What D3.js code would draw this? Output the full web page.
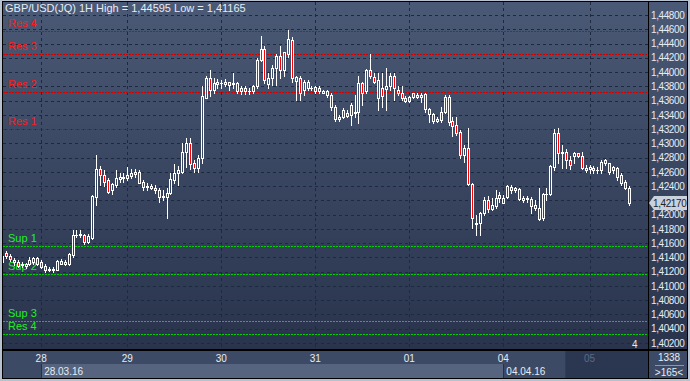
<!DOCTYPE html>
<html>
<head>
<meta charset="utf-8">
<script src="https://cdn.jsdelivr.net/npm/d3@7"></script>
<style>
  body { margin: 0; background: #b7c1d0; }
  svg { display: block; font-family: "Liberation Sans", Arial, sans-serif; }
</style>
</head>
<body>
<div id="app"></div>
<script>
// GBP/USD hourly candles (one value per hour)
const opens = [1.4134,1.4146,1.4142,1.4137,1.4133,1.4129,1.4128,1.4131,1.4133,1.4139,1.4133,1.4128,1.4123,1.4123,1.4123,1.4135,1.4131,1.4131,1.4143,1.4171,
  1.4172,1.4171,1.4162,1.4167,1.4225,1.4264,1.4256,1.4248,1.4234,1.4242,1.4250,1.4252,1.4252,1.4254,1.4257,1.4260,1.4246,1.4239,1.4238,1.4238,
  1.4235,1.4225,1.4225,1.4230,1.4249,1.4258,1.4260,1.4288,1.4300,1.4272,1.4265,1.4279,1.4364,1.4392,1.4375,1.4383,1.4384,1.4383,1.4382,1.4383,
  1.4384,1.4373,1.4378,1.4373,1.4373,1.4380,1.4417,1.4433,1.4383,1.4391,1.4405,1.4423,1.4403,1.4426,1.4445,1.4388,1.4391,1.4375,1.4377,1.4377,
  1.4373,1.4378,1.4374,1.4373,1.4368,1.4351,1.4334,1.4337,1.4343,1.4340,1.4342,1.4344,1.4384,1.4373,1.4403,1.4393,1.4363,1.4377,1.4376,1.4380,
  1.4395,1.4375,1.4371,1.4363,1.4360,1.4365,1.4368,1.4365,1.4369,1.4348,1.4341,1.4332,1.4333,1.4344,1.4365,1.4332,1.4326,1.4316,1.4284,1.4293,
  1.4243,1.4187,1.4188,1.4203,1.4221,1.4208,1.4212,1.4224,1.4217,1.4225,1.4239,1.4234,1.4236,1.4221,1.4222,1.4222,1.4214,1.4210,1.4195,1.4229,
  1.4229,1.4267,1.4314,1.4287,1.4288,1.4276,1.4282,1.4286,1.4282,1.4265,1.4264,1.4266,1.4262,1.4262,1.4276,1.4272,1.4262,1.4266,1.4256,1.4246,
  1.4238];
const highs = [1.4148,1.4149,1.4145,1.4139,1.4136,1.4133,1.4132,1.4141,1.4141,1.4141,1.4136,1.4131,1.4127,1.4127,1.4137,1.4138,1.4136,1.4146,1.4179,1.4178,
  1.4179,1.4173,1.4173,1.4227,1.4284,1.4268,1.4262,1.4251,1.4245,1.4263,1.4259,1.4259,1.4267,1.4264,1.4264,1.4262,1.4249,1.4244,1.4243,1.4242,
  1.4237,1.4235,1.4237,1.4258,1.4271,1.4268,1.4300,1.4307,1.4307,1.4277,1.4284,1.4380,1.4394,1.4403,1.4392,1.4390,1.4389,1.4390,1.4386,1.4398,
  1.4386,1.4380,1.4380,1.4378,1.4382,1.4419,1.4451,1.4437,1.4398,1.4410,1.4426,1.4436,1.4428,1.4459,1.4449,1.4394,1.4394,1.4389,1.4389,1.4381,
  1.4381,1.4380,1.4375,1.4375,1.4370,1.4354,1.4340,1.4349,1.4347,1.4356,1.4368,1.4394,1.4386,1.4404,1.4426,1.4398,1.4398,1.4398,1.4405,1.4398,
  1.4398,1.4380,1.4381,1.4366,1.4366,1.4371,1.4370,1.4370,1.4370,1.4349,1.4343,1.4337,1.4351,1.4368,1.4368,1.4337,1.4337,1.4319,1.4298,1.4321,
  1.4244,1.4200,1.4204,1.4225,1.4226,1.4224,1.4235,1.4232,1.4228,1.4242,1.4242,1.4239,1.4237,1.4226,1.4226,1.4225,1.4221,1.4237,1.4230,1.4237,
  1.4270,1.4320,1.4321,1.4298,1.4292,1.4282,1.4288,1.4287,1.4288,1.4270,1.4270,1.4268,1.4267,1.4277,1.4278,1.4273,1.4268,1.4267,1.4258,1.4248,
  1.4240];
const lows = [1.4116,1.4139,1.4135,1.4129,1.4126,1.4126,1.4125,1.4129,1.4131,1.4129,1.4125,1.4119,1.4121,1.4119,1.4122,1.4131,1.4130,1.4130,1.4141,1.4169,
  1.4169,1.4159,1.4160,1.4166,1.4214,1.4242,1.4240,1.4230,1.4229,1.4239,1.4246,1.4246,1.4249,1.4251,1.4253,1.4244,1.4235,1.4234,1.4236,1.4231,
  1.4218,1.4221,1.4195,1.4229,1.4244,1.4242,1.4258,1.4267,1.4264,1.4260,1.4260,1.4272,1.4363,1.4367,1.4370,1.4378,1.4378,1.4380,1.4375,1.4377,
  1.4370,1.4369,1.4369,1.4369,1.4371,1.4378,1.4415,1.4384,1.4377,1.4382,1.4382,1.4391,1.4394,1.4421,1.4386,1.4361,1.4361,1.4368,1.4375,1.4375,
  1.4371,1.4371,1.4370,1.4365,1.4347,1.4332,1.4332,1.4335,1.4337,1.4326,1.4337,1.4328,1.4354,1.4370,1.4391,1.4384,1.4347,1.4351,1.4347,1.4375,
  1.4361,1.4368,1.4361,1.4358,1.4358,1.4363,1.4363,1.4358,1.4344,1.4330,1.4328,1.4330,1.4330,1.4342,1.4326,1.4310,1.4312,1.4279,1.4274,1.4242,
  1.4181,1.4172,1.4172,1.4200,1.4204,1.4206,1.4210,1.4218,1.4216,1.4223,1.4231,1.4232,1.4220,1.4218,1.4218,1.4202,1.4207,1.4192,1.4193,1.4221,
  1.4228,1.4262,1.4273,1.4265,1.4265,1.4264,1.4272,1.4281,1.4264,1.4260,1.4259,1.4259,1.4258,1.4258,1.4270,1.4257,1.4259,1.4249,1.4242,1.4236,
  1.4213];
const closes = [1.4142,1.4142,1.4138,1.4133,1.4128,1.4131,1.4131,1.4137,1.4139,1.4131,1.4127,1.4122,1.4124,1.4124,1.4135,1.4131,1.4134,1.4145,1.4172,1.4172,
  1.4173,1.4161,1.4170,1.4226,1.4264,1.4256,1.4246,1.4232,1.4243,1.4251,1.4253,1.4253,1.4256,1.4258,1.4260,1.4245,1.4239,1.4240,1.4240,1.4234,
  1.4225,1.4226,1.4231,1.4250,1.4259,1.4262,1.4288,1.4300,1.4271,1.4265,1.4279,1.4366,1.4392,1.4375,1.4384,1.4386,1.4385,1.4386,1.4386,1.4384,
  1.4373,1.4377,1.4374,1.4374,1.4381,1.4417,1.4433,1.4389,1.4391,1.4406,1.4423,1.4403,1.4428,1.4446,1.4392,1.4393,1.4370,1.4386,1.4386,1.4378,
  1.4379,1.4373,1.4371,1.4368,1.4351,1.4334,1.4337,1.4347,1.4338,1.4354,1.4344,1.4384,1.4371,1.4403,1.4394,1.4386,1.4389,1.4366,1.4380,1.4394,
  1.4377,1.4371,1.4363,1.4359,1.4365,1.4370,1.4365,1.4368,1.4348,1.4341,1.4332,1.4334,1.4344,1.4365,1.4330,1.4324,1.4314,1.4284,1.4293,1.4243,
  1.4195,1.4188,1.4202,1.4221,1.4208,1.4214,1.4224,1.4228,1.4224,1.4240,1.4235,1.4237,1.4222,1.4223,1.4223,1.4212,1.4210,1.4194,1.4229,1.4229,
  1.4268,1.4314,1.4286,1.4288,1.4277,1.4270,1.4286,1.4282,1.4265,1.4262,1.4267,1.4262,1.4263,1.4274,1.4272,1.4260,1.4267,1.4253,1.4245,1.4238,
  1.4217];

// price axis labels and day labels
const priceTicks = [1.402,1.404,1.406,1.408,1.410,1.412,1.414,1.416,1.418,1.420,1.422,1.424,
  1.426,1.428,1.430,1.432,1.434,1.436,1.438,1.440,1.442,1.444,1.446,1.448];
const dayLabels = ['28','29','30','31','01','04','05'];
const dayIndex = [10, 32, 56, 80, 104, 128, 150];
const rangeLabels = ['28.03.16', '04.04.16'];

// support / resistance levels
const levelNames = ['Res 4','Res 3','Res 2','Res 1','Sup 1','Sup 2','Sup 3','Res 4'];
const levelValues = [1.4458, 1.4425, 1.4372, 1.4320, 1.4156, 1.4117, 1.4051, 1.4032];
const levelKinds = ['res','res','res','res','sup','sup','sup','sup'];

const titleText = 'GBP/USD(JQ) 1H';
const highValue = 1.44595;
const lowValue = 1.41165;
const lastPrice = closes[closes.length - 1];

const W = 690, H = 381;
const plot = { left: 3, right: 648, top: 2, bottom: 349 };
const txt = '#e6ecf4';

const data = opens.map((o, i) => ({ i, o, h: highs[i], l: lows[i], c: closes[i] }));

const fmt = (v) => d3.format('.5f')(v).replace('.', ',');

const x = d3.scaleLinear().domain([0, 160]).range([2, 628.7]);
const y = d3.scaleLinear().domain([1.402, 1.448]).range([343, 15]);

const svg = d3.select('#app').append('svg').attr('width', W).attr('height', H);

const defs = svg.append('defs');
// background gradient in page units so hollow bodies match it
const grad = defs.append('linearGradient').attr('id', 'bg').attr('gradientUnits', 'userSpaceOnUse')
  .attr('x1', 0).attr('y1', plot.top).attr('x2', 0).attr('y2', plot.bottom);
grad.append('stop').attr('offset', '0%').attr('stop-color', '#4a5975');
grad.append('stop').attr('offset', '100%').attr('stop-color', '#29334c');
defs.append('clipPath').attr('id', 'clip').append('rect')
  .attr('x', plot.left).attr('y', plot.top)
  .attr('width', plot.right - plot.left).attr('height', plot.bottom - plot.top);

// frame
svg.append('rect').attr('width', W).attr('height', H).attr('fill', '#b7c1d0');
svg.append('rect').attr('x', 2).attr('y', 1).attr('width', W - 4).attr('height', H - 3).attr('fill', '#000');
svg.append('rect').attr('x', plot.left).attr('y', plot.top)
  .attr('width', plot.right - plot.left).attr('height', plot.bottom - plot.top).attr('fill', 'url(#bg)');

// right price axis panel
svg.append('rect').attr('x', plot.right + 1).attr('y', plot.top)
  .attr('width', W - 3 - plot.right - 1).attr('height', plot.bottom - plot.top).attr('fill', 'url(#bg)');
// bottom time axis panel
svg.append('rect').attr('x', plot.left).attr('y', plot.bottom + 2)
  .attr('width', plot.right - plot.left).attr('height', H - 3 - plot.bottom - 2).attr('fill', '#3c4a65');
svg.append('rect').attr('x', plot.right + 1).attr('y', plot.bottom + 2)
  .attr('width', W - 3 - plot.right - 1).attr('height', H - 3 - plot.bottom - 2).attr('fill', '#3c4a65');

const g = svg.append('g').attr('clip-path', 'url(#clip)');

// grid
g.selectAll('line.hgrid').data(priceTicks).join('line')
  .attr('class', 'hgrid')
  .attr('x1', plot.left).attr('x2', plot.right)
  .attr('y1', (d) => Math.round(y(d)) + 0.5).attr('y2', (d) => Math.round(y(d)) + 0.5)
  .attr('stroke', '#1d2841').attr('stroke-dasharray', '3,3');
g.selectAll('line.vgrid').data(dayIndex).join('line')
  .attr('class', 'vgrid')
  .attr('x1', (d) => Math.round(x(d)) + 0.5).attr('x2', (d) => Math.round(x(d)) + 0.5)
  .attr('y1', plot.top).attr('y2', plot.bottom)
  .attr('stroke', '#1d2841').attr('stroke-dasharray', '3,3');

// levels
const lv = g.selectAll('g.level').data(levelValues).join('g').attr('class', 'level');
lv.append('line')
  .attr('x1', plot.left).attr('x2', plot.right)
  .attr('y1', (d) => Math.round(y(d)) + 0.5).attr('y2', (d) => Math.round(y(d)) + 0.5)
  .attr('stroke', (d, i) => levelKinds[i] === 'res' ? '#d40000' : '#00d000')
  .attr('stroke-dasharray', '2,1');
lv.append('text')
  .attr('x', 8).attr('y', (d) => y(d) - 4)
  .attr('fill', (d, i) => levelKinds[i] === 'res' ? '#ff1a1a' : '#22ee22')
  .attr('font-size', 11)
  .text((d, i) => levelNames[i]);

// candles
const cg = g.selectAll('g.candle').data(data).join('g').attr('class', 'candle')
  .attr('transform', (d) => `translate(${Math.round(x(d.i)) + 0.5},0)`);
cg.append('line')
  .attr('y1', (d) => Math.round(y(d.h))).attr('y2', (d) => Math.round(y(d.l)) + 1)
  .attr('stroke', '#fff');
cg.append('rect')
  .attr('x', -1)
  .attr('y', (d) => Math.round(y(Math.max(d.o, d.c))) + 0.5)
  .attr('width', 2)
  .attr('height', (d) => Math.max(0.0001, Math.round(y(Math.min(d.o, d.c))) - Math.round(y(Math.max(d.o, d.c)))))
  .attr('fill', (d) => d.c < d.o ? '#ff0000' : 'url(#bg)')
  .attr('stroke', '#fff');

// title
svg.append('text').attr('x', 5).attr('y', 12).attr('fill', txt).attr('font-size', 11)
  .text(`${titleText} High = ${fmt(highValue)} Low = ${fmt(lowValue)}`);
svg.append('text').attr('x', 632).attr('y', 348).attr('fill', txt).attr('font-size', 10).text('4');

// axis separators
svg.append('line').attr('x1', plot.right + 0.5).attr('x2', plot.right + 0.5).attr('y1', 1).attr('y2', H - 2).attr('stroke', '#000');
svg.append('line').attr('x1', 2).attr('x2', W - 2).attr('y1', plot.bottom + 0.5).attr('y2', plot.bottom + 0.5).attr('stroke', '#000');

// price axis
const yAxis = svg.append('g').attr('transform', `translate(${plot.right},0)`)
  .call(d3.axisRight(y).tickValues(priceTicks.filter((v) => Math.abs(y(v) - y(lastPrice)) > 8))
    .tickFormat(fmt).tickSize(0).tickPadding(3));
yAxis.select('.domain').remove();
yAxis.selectAll('text').attr('fill', txt).attr('font-size', 10).attr('letter-spacing', '-0.4px')
  .attr('font-family', '"Liberation Sans", Arial, sans-serif');

// current price tag
const ty = Math.round(y(lastPrice));
svg.append('path')
  .attr('d', `M${plot.right + 1},${ty} L${plot.right + 6},${ty - 7} L${W - 3},${ty - 7} L${W - 3},${ty + 7} L${plot.right + 6},${ty + 7} Z`)
  .attr('fill', '#c9d1dc');
svg.append('text').attr('x', plot.right + 5).attr('y', ty + 4).attr('fill', '#222').attr('font-size', 10)
  .attr('letter-spacing', '-0.4px').text(fmt(lastPrice));

// time axis
const tAxis = svg.append('g').attr('transform', `translate(0,${plot.bottom + 1})`);
tAxis.append('rect').attr('x', x(dayIndex[0])).attr('y', 14)
  .attr('width', x(dayIndex[5]) - x(dayIndex[0])).attr('height', 14).attr('fill', '#56647f');
tAxis.append('rect').attr('x', x(dayIndex[5]) + 62).attr('y', 1)
  .attr('width', plot.right - x(dayIndex[5]) - 62).attr('height', 27).attr('fill', '#2b3651');
tAxis.selectAll('line.dtick').data([dayIndex[0], dayIndex[5]]).join('line')
  .attr('class', 'dtick')
  .attr('x1', (d) => Math.round(x(d)) + 0.5).attr('x2', (d) => Math.round(x(d)) + 0.5)
  .attr('y1', 14).attr('y2', 28).attr('stroke', '#26304a');
tAxis.selectAll('text.day').data(dayLabels).join('text')
  .attr('class', 'day')
  .attr('x', (d, i) => x(dayIndex[i]))
  .attr('y', 12)
  .attr('text-anchor', 'middle')
  .attr('fill', (d, i) => i === dayLabels.length - 1 ? '#5d6a85' : txt)
  .attr('font-size', 10)
  .text((d) => d);
tAxis.selectAll('text.range').data(rangeLabels).join('text')
  .attr('class', 'range')
  .attr('x', (d, i) => x(dayIndex[i * 5]) + 3)
  .attr('y', 25)
  .attr('fill', txt)
  .attr('font-size', 10)
  .text((d) => d);

svg.append('text').attr('x', 669).attr('y', 361).attr('text-anchor', 'middle').attr('fill', txt).attr('font-size', 10).text('1338');
svg.append('line').attr('x1', 655).attr('x2', 684).attr('y1', 365.5).attr('y2', 365.5).attr('stroke', '#8a96ab');
svg.append('text').attr('x', 669).attr('y', 376).attr('text-anchor', 'middle').attr('fill', txt).attr('font-size', 10).text('>165<');
</script>
</body>
</html>
